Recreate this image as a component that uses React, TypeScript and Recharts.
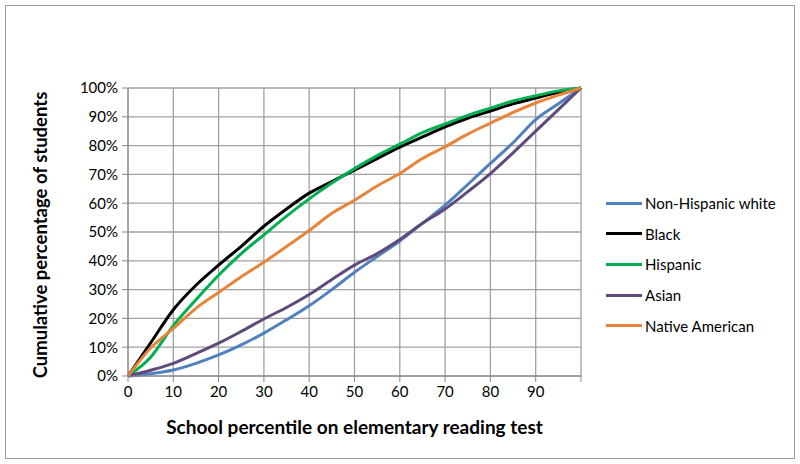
import { LineChart, Line, XAxis, YAxis, CartesianGrid } from 'recharts'

const percentiles = [0, 5, 10, 15, 20, 25, 30, 35, 40, 45, 50, 55, 60, 65, 70, 75, 80, 85, 90, 95, 100]
const xTicks = [0, 10, 20, 30, 40, 50, 60, 70, 80, 90, 100]
const yTicks = [0, 10, 20, 30, 40, 50, 60, 70, 80, 90, 100]

const white = [0, 0.8, 2.1, 4.4, 7.3, 10.8, 14.9, 19.5, 24.4, 30, 36, 41.5, 46.9, 53, 59.3, 66.5, 73.8, 81, 89, 94.5, 100]
const black = [0, 11.5, 23, 31.5, 38.5, 45, 52, 58, 63.5, 67.5, 71.5, 75.5, 79.5, 83, 86.5, 89.5, 92, 94.5, 96.5, 98.5, 100]
const hispanic = [0, 6.5, 17.5, 26.5, 35, 42.5, 49, 55.5, 61.5, 67, 72, 76.5, 80.5, 84.5, 87.5, 90.5, 93, 95.5, 97.3, 99, 100]
const asian = [0, 2, 4.4, 7.8, 11.4, 15.5, 19.8, 23.8, 28.3, 33.5, 38.5, 42.5, 47.4, 53, 58, 64, 70.3, 77.5, 85, 92.5, 100]
const nativeAm = [0, 9.7, 16.5, 23.5, 29, 34.5, 39.5, 45, 50.5, 56.5, 61, 66, 70.3, 75.5, 79.6, 84, 87.8, 91.5, 94.8, 97.5, 100]

const SERIES = [
  { key: 'white', name: 'Non-Hispanic white', color: '#4F81BD' },
  { key: 'black', name: 'Black', color: '#000000' },
  { key: 'hispanic', name: 'Hispanic', color: '#00B050' },
  { key: 'asian', name: 'Asian', color: '#604A7B' },
  { key: 'nativeAm', name: 'Native American', color: '#E8843A' },
]

const data = percentiles.map((p, i) => ({
  p,
  white: white[i],
  black: black[i],
  hispanic: hispanic[i],
  asian: asian[i],
  nativeAm: nativeAm[i],
}))

const FONT = 'Lato, Carlito, sans-serif'

export default function App() {
  return (
    <div style={{ position: 'relative', width: 800, height: 464, background: '#fff', fontFamily: FONT }}>
      <style>{'body{margin:0}'}</style>
      <div
        style={{
          position: 'absolute',
          left: 5,
          top: 5,
          width: 788,
          height: 452,
          border: '1.5px solid #9a9a9a',
        }}
      />
      <LineChart width={800} height={464} data={data} margin={{ top: 88, right: 219, left: 68, bottom: 58 }}>
        <CartesianGrid stroke="#a0a0a0" strokeWidth={1.3} />
        <XAxis
          dataKey="p"
          type="number"
          domain={[0, 100]}
          ticks={xTicks}
          tickFormatter={(v) => (v === 100 ? '' : String(v))}
          height={30}
          tickSize={6}
          tickMargin={4}
          stroke="#888"
          tick={{ fill: '#000', fontSize: 15, fontFamily: FONT }}
        />
        <YAxis
          type="number"
          domain={[0, 100]}
          ticks={yTicks}
          tickFormatter={(v) => `${v}%`}
          width={60}
          tickSize={6}
          tickMargin={4}
          stroke="#888"
          tick={{ fill: '#000', fontSize: 15, fontFamily: FONT }}
        />
        {SERIES.map((s) => (
          <Line
            key={s.key}
            dataKey={s.key}
            name={s.name}
            type="monotone"
            stroke={s.color}
            strokeWidth={3}
            dot={false}
            isAnimationActive={false}
          />
        ))}
      </LineChart>
      <div style={{ position: 'absolute', left: 606, top: 188, fontSize: 15, color: '#000' }}>
        {SERIES.map((s) => (
          <div key={s.key} style={{ display: 'flex', alignItems: 'center', height: 30.6 }}>
            <div style={{ width: 36, height: 3, background: s.color, marginRight: 3 }} />
            <span>{s.name}</span>
          </div>
        ))}
      </div>
      <div
        style={{
          position: 'absolute',
          left: 128,
          width: 453,
          top: 415,
          textAlign: 'center',
          fontWeight: 'bold',
          fontSize: 19,
        }}
      >
        School percentile on elementary reading test
      </div>
      <div
        style={{
          position: 'absolute',
          left: 40,
          top: 235,
          transform: 'translate(-50%, -50%) rotate(-90deg)',
          whiteSpace: 'nowrap',
          fontWeight: 'bold',
          fontSize: 18.5,
        }}
      >
        Cumulative percentage of students
      </div>
    </div>
  )
}
